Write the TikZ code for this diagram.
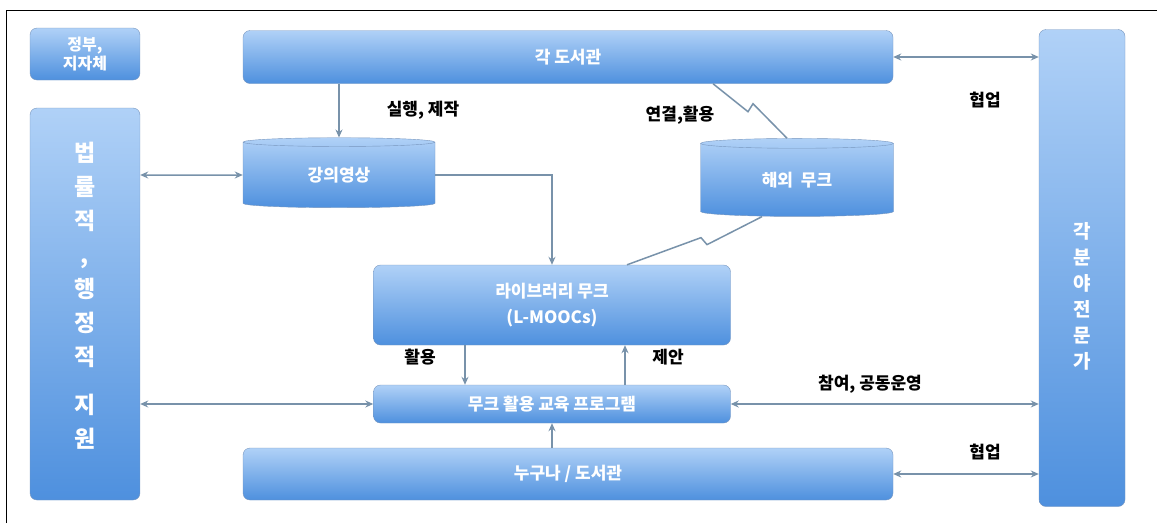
\documentclass[tikz,border=0pt]{standalone}
\usepackage{fontspec}
\newfontfamily\krfont{Noto Sans CJK KR}
\usetikzlibrary{arrows.meta,shapes.geometric}
\definecolor{boxtop}{RGB}{176,209,247}
\definecolor{boxbot}{RGB}{78,144,222}
\definecolor{boxedge}{RGB}{120,150,190}
\definecolor{linkcol}{RGB}{120,146,170}
\tikzset{
  bluebox/.style={draw=boxedge, rounded corners=7pt, top color=boxtop, bottom color=boxbot,
    text=white, font=\krfont\bfseries\fontsize{17}{28}\selectfont, align=center, inner sep=0pt},
  boxtext/.style={text=white, align=center, inner sep=0pt},
  bluedisk/.style={cylinder, shape border rotate=90, aspect=0.14, draw=boxedge,
    top color=boxtop, bottom color=boxbot, text=white,
    font=\krfont\bfseries\fontsize{17}{20}\selectfont, inner sep=0pt},
  link/.style={draw=linkcol, line width=1.5pt, arrows={-Stealth[length=8pt,width=7pt]}},
  bilink/.style={link, arrows={Stealth[length=8pt,width=7pt]-Stealth[length=8pt,width=7pt]}},
  bolt/.style={draw=linkcol, line width=1.5pt},
  tag/.style={font=\krfont\bfseries\fontsize{17}{20}\selectfont, text=black}
}
\begin{document}
\begin{tikzpicture}[x=1pt,y=-1pt]
    \useasboundingbox (0,0) rectangle (1157,523);
    \draw[black, line width=0.8pt] (6,523)--(6,10)--(1157,10);
    % boxes
    \node[bluebox, minimum width=110, minimum height=52,
        font=\krfont\bfseries\fontsize{16}{19}\selectfont] (gov) at (85,54) {정부,\\지자체};
    \node[bluebox, minimum width=650, minimum height=53] (lib) at (568,57) {각 도서관};
    \node[bluebox, minimum width=110, minimum height=392] (law) at (85,304) {};
    \node[boxtext, font=\krfont\bfseries\fontsize{23}{34}\selectfont]
        at ([yshift=8]law.center) {법\\률\\적\\,\\행\\정\\적\\[14pt]지\\원};
    \node[bluebox, minimum width=86, minimum height=477] (expert) at (1082,268) {};
    \node[boxtext, font=\krfont\bfseries\fontsize{19}{26}\selectfont]
        at ([yshift=-28]expert.center) {각\\분\\야\\전\\문\\가};
    \node[bluedisk, minimum width=192, minimum height=70] (lecture) at (339,175) {강의영상};
    \node[bluedisk, minimum width=193, minimum height=78] (abroad) at (797,180) {해외\ \ 무크};
    \node[bluebox, minimum width=357, minimum height=80] (lmooc) at (552,305)
        {라이브러리 무크\\[-2pt](L-MOOCs)};
    \node[bluebox, minimum width=357, minimum height=38] (prog) at (552,404) {무크 활용 교육 프로그램};
    \node[bluebox, minimum width=650, minimum height=52] (anyone) at (568,474) {누구나 / 도서관};
    % connectors
    \draw[bilink] (lib.east) -- (lib.east -| expert.west);
    \draw[link] (lib.south -| lecture.north) -- (lecture.north);
    \draw[bilink] (law.east |- lecture) -- (lecture.west);
    \draw[link] (lecture.east) -| (lmooc.north);
    \draw[link] ([xshift=-87]lmooc.south) -- ([xshift=-87]prog.north);
    \draw[link] ([xshift=73]prog.north) -- ([xshift=73]lmooc.south);
    \draw[bilink] (law.east |- prog) -- (prog.west);
    \draw[bilink] (prog.east) -- (prog.east -| expert.west);
    \draw[link] (anyone.north -| prog.south) -- (prog.south);
    \draw[bilink] (anyone.east) -- (anyone.east -| expert.west);
    \draw[bolt] ([xshift=145]lib.south) -- ++(35,28) -- ++(5,-8) -- ([xshift=-10]abroad.north);
    \draw[bolt] ([xshift=-35]abroad.south) -- ++(-55,28) -- ++(-6,-7) -- ([xshift=75]lmooc.north);
    % labels
    \node[tag] at (985,100) {협업};
    \node[tag] at (423,110) {실행, 제작};
    \node[tag] at (680,115) {연결,활용};
    \node[tag] at (420,357) {활용};
    \node[tag] at (668,357) {제안};
    \node[tag] at (870,384) {참여, 공동운영};
    \node[tag] at (985,452) {협업};
\end{tikzpicture}
\end{document}
